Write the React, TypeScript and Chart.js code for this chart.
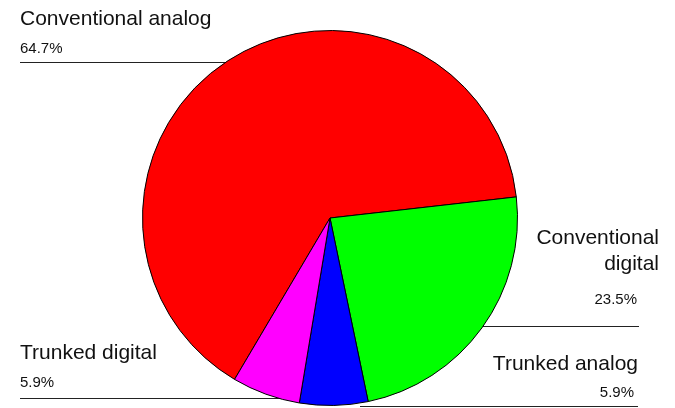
import React, { useEffect, useRef } from "react";
import { Chart, registerables } from "chart.js";

Chart.register(...registerables);

const categories = ["Conventional analog", "Conventional digital", "Trunked analog", "Trunked digital"];
const labelLines = [["Conventional analog"], ["Conventional", "digital"], ["Trunked analog"], ["Trunked digital"]];
const counts = [11, 4, 1, 1];
const colors = ["#ff0000", "#00ff00", "#0000ff", "#ff00ff"];

// label layout: anchor x, alignment, baselines of name lines, percent baseline, leader line y, line x extent
const labelLayout = [
  { x: 20, align: "left", nameY: [25], pctX: 20, pctY: 53, lineY: 62.5, x1: 20, x2: 300 },
  { x: 659, align: "right", nameY: [244, 270], pctX: 637, pctY: 304, lineY: 326.5, x1: 400, x2: 639 },
  { x: 638, align: "right", nameY: [370], pctX: 634, pctY: 397, lineY: 406.5, x1: 360, x2: 638 },
  { x: 20, align: "left", nameY: [359], pctX: 20, pctY: 387, lineY: 398.5, x1: 20, x2: 300 },
];

const labelPlugin = {
  id: "outerLabels",
  beforeDatasetsDraw(chart: any) {
    const ctx = chart.ctx;
    ctx.save();
    ctx.strokeStyle = "#222";
    ctx.lineWidth = 1;
    labelLayout.forEach((l) => {
      ctx.beginPath();
      ctx.moveTo(l.x1, l.lineY);
      ctx.lineTo(l.x2, l.lineY);
      ctx.stroke();
    });
    ctx.restore();
  },
  afterDatasetsDraw(chart: any) {
    const ctx = chart.ctx;
    const total = counts.reduce((a, b) => a + b, 0);
    ctx.save();
    ctx.fillStyle = "#111";
    ctx.textBaseline = "alphabetic";
    labelLayout.forEach((l, i) => {
      ctx.textAlign = l.align;
      ctx.font = '21px "Liberation Sans", Arial, sans-serif';
      labelLines[i].forEach((t, j) => ctx.fillText(t, l.x, l.nameY[j]));
      ctx.font = '15px "Liberation Sans", Arial, sans-serif';
      ctx.fillText(((counts[i] / total) * 100).toFixed(1) + "%", l.pctX, l.pctY);
    });
    ctx.restore();
  },
};

export default function App() {
  const ref = useRef<HTMLCanvasElement>(null);
  useEffect(() => {
    const chart = new Chart(ref.current!, {
      type: "pie",
      data: {
        labels: categories,
        datasets: [
          {
            data: counts,
            backgroundColor: colors,
            borderColor: "#000",
            borderWidth: 1,
          },
        ],
      },
      options: {
        responsive: false,
        animation: false,
        rotation: 210.6,
        layout: { padding: { left: 142, right: 157, top: 30, bottom: 2 } },
        plugins: { legend: { display: false }, tooltip: { enabled: false } },
      },
      plugins: [labelPlugin],
    });
    return () => chart.destroy();
  }, []);
  return (
    <div style={{ position: "fixed", left: 0, top: 0, width: 675, height: 408, background: "#fff" }}>
      <canvas ref={ref} width={675} height={408} />
    </div>
  );
}
